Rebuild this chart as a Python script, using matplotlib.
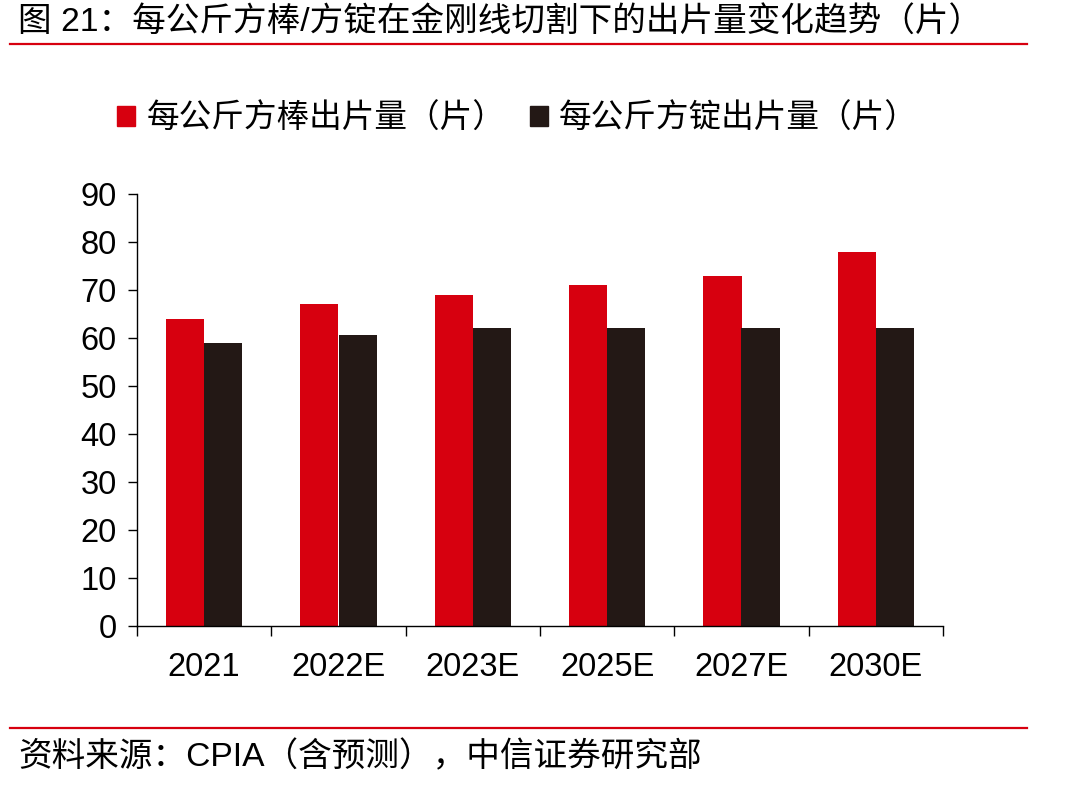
"""Per-kg rod/ingot wafer output under diamond wire cutting."""

import matplotlib
matplotlib.use("Agg")
import matplotlib.pyplot as plt
from matplotlib.lines import Line2D
from matplotlib.patches import Patch
import numpy as np

plt.rcParams["font.family"] = ["Liberation Sans", "Noto Sans CJK SC", "DejaVu Sans"]

CATEGORIES = ["2021", "2022E", "2023E", "2025E", "2027E", "2030E"]
ROD_WAFERS = [64, 67, 69, 71, 73, 78]
INGOT_WAFERS = [59, 60.7, 62, 62, 62, 62]
SERIES_NAMES = ["每公斤方棒出片量（片）", "每公斤方锭出片量（片）"]
Y_TICKS = [0, 10, 20, 30, 40, 50, 60, 70, 80, 90]

RED = "#D7000F"
DARK = "#231815"

W, H = 1084, 789
fig = plt.figure(figsize=(W / 100, H / 100), dpi=100)
ax = fig.add_axes([137 / W, 1 - 626 / H, 806 / W, 432 / H])

x = np.arange(len(CATEGORIES))
bw = 0.283
ax.bar(x - bw, ROD_WAFERS, width=bw, align="edge", color=RED, label=SERIES_NAMES[0])
ax.bar(x, INGOT_WAFERS, width=bw, align="edge", color=DARK, label=SERIES_NAMES[1])

ax.set_xlim(-0.5, len(CATEGORIES) - 0.5)
ax.set_ylim(0, 90)
ax.set_yticks(Y_TICKS)
ax.set_xticks(x)
ax.set_xticklabels(CATEGORIES)
ax.set_xticks(np.arange(len(CATEGORIES) + 1) - 0.5, minor=True)

ax.tick_params(axis="y", direction="out", length=6.5, width=1, labelsize=23.5, pad=8)
ax.tick_params(axis="x", which="major", length=0, labelsize=23.5, pad=19)
ax.tick_params(axis="x", which="minor", direction="out", length=7, width=1)

for side in ("top", "right"):
    ax.spines[side].set_visible(False)
for side in ("left", "bottom"):
    ax.spines[side].set_linewidth(1)

# title and source
fig.text(18 / W, 1 - 22 / H, "图 21：每公斤方棒/方锭在金刚线切割下的出片量变化趋势（片）",
         fontsize=24.2, va="center", ha="left")
fig.add_artist(Line2D([10 / W, 1027 / W], [1 - 44 / H, 1 - 44 / H],
                      transform=fig.transFigure, color=RED, lw=1.6))
fig.add_artist(Line2D([10 / W, 1027 / W], [1 - 728 / H, 1 - 728 / H],
                      transform=fig.transFigure, color=RED, lw=1.6))
fig.text(18 / W, 1 - 757 / H, "资料来源：CPIA（含预测），中信证券研究部",
         fontsize=24.2, va="center", ha="left")

handles = [Patch(color=RED), Patch(color=DARK)]
fig.legend(handles, SERIES_NAMES, loc="center left",
           bbox_to_anchor=(117 / W, 1 - 119 / H), ncol=2, frameon=False,
           fontsize=23.5, handlelength=0.55, handleheight=0.55, handletextpad=0.35,
           columnspacing=0.75, borderaxespad=0, borderpad=0)

fig.savefig("out.png", dpi=100)
